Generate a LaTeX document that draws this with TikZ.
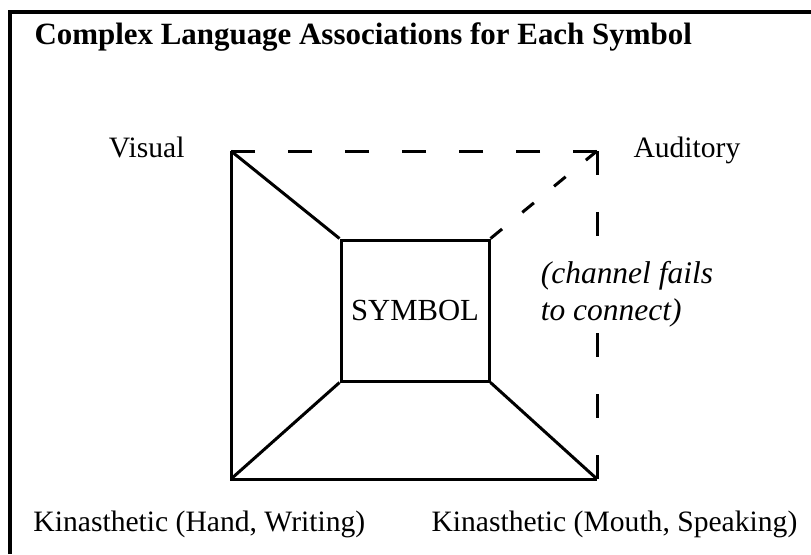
\documentclass[tikz,border=0pt]{standalone}
\usepackage{fontspec}
\setmainfont{Liberation Serif}
\tikzset{
  lbl/.style={inner sep=0pt,font=\fontsize{22.2pt}{26pt}\selectfont},
  ttl/.style={inner sep=0pt,font=\fontsize{23.2pt}{27pt}\selectfont\bfseries},
  note/.style={inner sep=4pt,fill=white,font=\fontsize{23.6pt}{27.75pt}\selectfont\itshape},
  side/.style={dash pattern=on 18pt off 24.75pt},
  rise/.style={dash pattern=on 18pt off 27.6pt},
  diag/.style={dash pattern=on 11.25pt off 19.6pt}
}
\begin{document}
\begin{tikzpicture}[x=0.75pt,y=-0.75pt,line width=2.25pt]
  \useasboundingbox (0,0) rectangle (811,554);
  \draw[line width=2.4pt] (10,554)--(10,12)--(811,12);
  \node[ttl,anchor=base west] (title) at (33,44) {Complex Language Associations for Each Symbol};
  \coordinate (V) at (231,151);
  \coordinate (A) at (597,151);
  \coordinate (H) at (231,479);
  \coordinate (M) at (597,479);
  \node[draw,inner sep=0pt,minimum width=111pt,minimum height=105.75pt,
        font=\fontsize{23pt}{27pt}\selectfont] (sym) at (415,310.5) {SYMBOL};
  \draw[side] (A)--(V);
  \draw[rise] (A)--(M);
  \draw (V)--(H)--(M);
  \draw (V)--(sym.north west);
  \draw (H)--(sym.south west);
  \draw (M)--(sym.south east);
  \draw[diag] (sym.north east)--(A);
  \node[lbl,anchor=base east] (vis) at (186,157) {Visual};
  \node[lbl,anchor=base west] (aud) at (632,157) {Auditory};
  \node[note,anchor=base west] (chan) at (534,283) {(channel fails};
  \node[note,anchor=base west] (conn) at (534,320) {to connect)};
  \node[lbl,anchor=base west] (hand) at (32,531) {Kinasthetic (Hand, Writing)};
  \node[lbl,anchor=base west] (mouth) at (430,531) {Kinasthetic (Mouth, Speaking)};
\end{tikzpicture}
\end{document}
